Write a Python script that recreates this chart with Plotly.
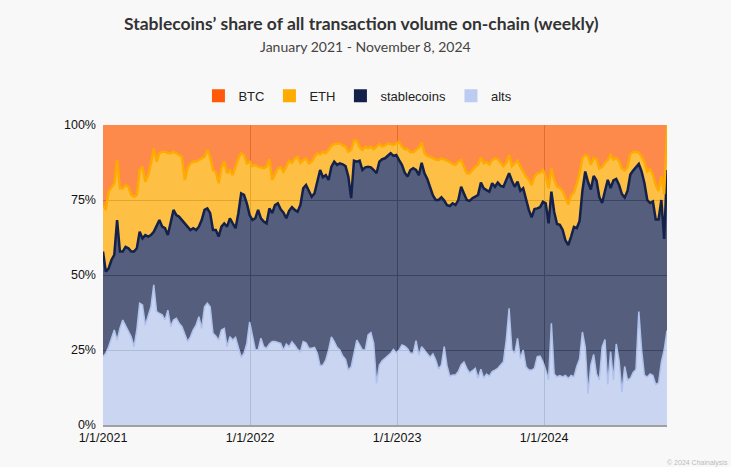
import pandas as pd
import plotly.graph_objects as go

# Weekly observations, first week of 2021 through start of November 2024
weeks = pd.date_range("2021-01-01", periods=201, freq="7D")

# Share of on-chain transaction volume (%)
alts = [22.8, 23.9, 26.1, 28.9, 31.7, 28.3, 32.2, 35.0, 33.3, 31.1, 29.4, 26.1, 31.7, 40.6, 40.0, 33.3, 36.1, 39.4, 46.7, 37.8,
        37.2, 36.7, 35.0, 38.3, 32.8, 35.0, 35.6, 33.9, 32.8, 30.6, 27.8, 29.4, 31.7, 33.3, 36.1, 32.2, 39.4, 40.6, 39.4, 30.6,
        29.7, 28.3, 31.7, 32.2, 26.1, 29.4, 28.3, 29.2, 25.6, 22.6, 23.9, 27.2, 34.4, 29.4, 25.2, 25.0, 28.9, 26.1, 25.6, 27.0,
        27.8, 27.8, 27.4, 27.2, 25.0, 27.0, 26.1, 27.7, 26.6, 25.2, 24.4, 27.8, 27.4, 25.6, 25.6, 25.9, 23.9, 19.7, 20.0, 21.7,
        25.0, 29.4, 27.8, 25.9, 25.0, 23.0, 21.9, 18.3, 19.4, 23.9, 28.3, 26.7, 25.0, 25.0, 30.0, 30.8, 27.2, 13.9, 20.0, 21.4,
        22.3, 23.2, 23.9, 25.2, 24.1, 25.0, 26.7, 26.3, 25.4, 23.9, 23.9, 28.1, 23.3, 26.1, 25.0, 23.9, 22.6, 23.7, 21.7, 18.6,
        20.0, 26.1, 19.7, 16.3, 16.7, 16.7, 17.8, 20.0, 21.0, 18.9, 17.4, 18.1, 18.9, 15.6, 18.6, 15.6, 17.0, 16.3, 17.8, 18.3,
        18.9, 20.0, 21.1, 28.3, 38.9, 25.0, 23.9, 28.9, 22.2, 25.0, 19.4, 18.3, 18.3, 18.9, 22.8, 23.0, 21.1, 18.3, 15.0, 33.9,
        17.0, 16.0, 16.5, 16.0, 16.5, 15.5, 16.5, 16.0, 19.5, 22.0, 31.0, 26.0, 10.5, 20.0, 23.5, 17.0, 15.0, 26.0, 28.5, 13.5,
        24.5, 15.0, 27.0, 21.5, 11.0, 19.5, 15.0, 15.5, 17.5, 18.5, 37.8, 25.0, 16.5, 16.0, 17.0, 16.5, 13.5, 14.0, 21.0, 25.0,
        31.5]

stablecoins = [35.0, 27.2, 26.1, 26.1, 25.0, 40.0, 25.6, 22.8, 26.1, 27.8, 28.4, 31.7, 27.2, 23.8, 22.2, 30.0, 26.7, 23.9, 17.7, 28.3,
               31.1, 29.4, 30.6, 25.0, 35.0, 36.7, 34.4, 35.5, 35.5, 36.6, 38.3, 35.6, 33.9, 31.7, 30.0, 36.1, 32.3, 31.6, 31.2, 34.4,
               35.3, 34.5, 34.4, 35.0, 40.0, 39.5, 38.9, 36.4, 45.0, 54.6, 52.8, 46.7, 35.6, 38.9, 43.7, 46.7, 40.0, 41.7, 41.6, 45.2,
               42.8, 45.5, 46.5, 44.7, 45.8, 41.9, 45.3, 44.9, 45.1, 45.9, 48.9, 51.1, 52.6, 52.2, 50.5, 51.3, 57.2, 65.3, 62.6, 61.6,
               56.7, 56.7, 60.0, 60.8, 62.2, 63.9, 64.4, 64.5, 56.2, 64.2, 59.5, 61.4, 60.0, 60.9, 56.1, 55.1, 57.8, 70.0, 67.8, 67.2,
               66.6, 66.5, 66.7, 64.5, 65.9, 63.3, 60.0, 57.8, 57.4, 61.1, 61.7, 56.9, 60.0, 61.3, 58.9, 58.1, 56.9, 52.8, 53.3, 56.4,
               55.9, 48.7, 53.6, 56.7, 57.2, 56.6, 57.2, 59.4, 56.2, 56.1, 57.3, 57.5, 57.2, 61.1, 62.2, 63.3, 61.3, 61.5, 62.8, 61.1,
               61.9, 59.7, 58.3, 53.6, 45.0, 56.4, 55.5, 52.2, 55.9, 53.9, 55.4, 53.4, 50.9, 53.1, 49.4, 49.6, 53.3, 55.6, 52.2, 43.9,
               54.0, 51.0, 50.2, 49.0, 45.0, 44.5, 46.3, 50.0, 46.1, 46.0, 47.0, 58.5, 70.5, 58.5, 59.5, 64.5, 61.0, 48.0, 49.5, 68.2,
               54.5, 66.5, 55.0, 58.5, 66.0, 56.3, 63.0, 68.0, 67.3, 67.5, 49.2, 59.5, 64.1, 59.0, 57.0, 58.0, 55.0, 54.5, 54.0, 37.0,
               53.5]

eth = [15.5, 20.6, 25.6, 24.4, 23.9, 20.0, 21.1, 21.1, 20.6, 20.5, 18.9, 18.3, 17.8, 20.6, 23.9, 17.8, 20.5, 23.9, 27.8, 21.7,
       22.3, 25.0, 25.5, 27.3, 22.8, 19.4, 20.6, 20.6, 21.1, 14.5, 19.5, 22.2, 22.2, 22.8, 22.2, 20.6, 17.7, 19.5, 18.8, 20.0,
       19.4, 17.8, 19.5, 20.6, 17.8, 16.1, 16.1, 20.5, 18.3, 13.4, 13.3, 13.3, 17.8, 18.0, 17.8, 14.4, 17.0, 17.8, 18.9, 16.4,
       11.1, 10.6, 11.7, 14.0, 13.6, 17.2, 16.7, 14.8, 17.2, 18.3, 14.1, 9.4, 8.9, 9.4, 11.7, 12.2, 9.5, 5.2, 8.4, 7.3,
       10.3, 7.0, 5.9, 7.2, 6.7, 6.3, 6.5, 8.3, 16.1, 6.7, 7.0, 4.5, 6.7, 6.9, 6.2, 6.9, 6.9, 8.9, 5.9, 4.2,
       4.3, 4.2, 3.1, 3.6, 3.9, 6.1, 6.1, 7.8, 9.2, 5.9, 5.3, 6.7, 9.1, 6.8, 6.7, 7.7, 9.9, 12.5, 13.5, 13.3,
       13.0, 13.8, 14.8, 14.6, 13.1, 13.4, 12.8, 8.9, 8.9, 8.9, 9.2, 9.6, 10.0, 10.0, 8.4, 8.3, 9.4, 9.0, 7.7, 9.5,
       7.8, 7.7, 6.9, 5.5, 6.1, 4.9, 7.8, 7.0, 8.0, 5.5, 8.0, 10.0, 10.8, 10.8, 11.7, 11.5, 10.6, 8.9, 11.7, 7.8,
       10.7, 12.5, 12.3, 13.0, 14.0, 13.5, 13.7, 11.5, 14.9, 16.0, 11.0, 5.5, 8.5, 8.2, 6.0, 7.0, 9.5, 12.0, 9.5, 6.6,
       11.0, 7.0, 7.0, 8.0, 8.5, 9.0, 8.0, 6.8, 6.2, 5.1, 3.8, 5.0, 7.0, 9.5, 11.3, 9.0, 11.5, 9.5, 8.0, 15.0,
       15.0]

btc = [26.7, 28.3, 22.2, 20.6, 19.4, 11.7, 21.1, 21.1, 20.0, 20.6, 23.3, 23.9, 23.3, 15.0, 13.9, 18.9, 16.7, 12.8, 7.8, 12.2,
       9.4, 8.9, 8.9, 9.4, 9.4, 8.9, 9.4, 10.0, 10.6, 18.3, 14.4, 12.8, 12.2, 12.2, 11.7, 11.1, 10.6, 8.3, 10.6, 15.0,
       15.6, 19.4, 14.4, 12.2, 16.1, 15.0, 16.7, 13.9, 11.1, 9.4, 10.0, 12.8, 12.2, 13.7, 13.3, 13.9, 14.1, 14.4, 13.9, 11.4,
       18.3, 16.1, 14.4, 14.1, 15.6, 13.9, 11.9, 12.6, 11.1, 10.6, 12.6, 11.7, 11.1, 12.8, 12.2, 10.6, 9.4, 9.8, 9.0, 9.4,
       8.0, 6.9, 6.3, 6.1, 6.1, 6.8, 7.2, 8.9, 8.3, 5.2, 5.2, 7.4, 8.3, 7.2, 7.7, 7.2, 8.1, 7.2, 6.3, 7.2,
       6.8, 6.1, 6.3, 6.7, 6.1, 5.6, 7.2, 8.1, 8.0, 9.1, 9.1, 8.3, 7.6, 5.8, 9.4, 10.3, 10.6, 11.0, 11.5, 11.7,
       11.1, 11.4, 11.9, 12.4, 13.0, 13.3, 12.2, 11.7, 13.9, 16.1, 16.1, 14.8, 13.9, 13.3, 10.8, 12.8, 12.3, 13.2, 11.7, 11.1,
       11.4, 12.6, 13.7, 12.6, 10.0, 13.7, 12.8, 11.9, 13.9, 15.6, 17.2, 18.3, 20.0, 17.2, 16.1, 15.9, 15.0, 17.2, 21.1, 14.4,
       18.3, 20.5, 21.0, 22.0, 24.5, 26.5, 23.5, 22.5, 19.5, 16.0, 11.0, 10.0, 10.5, 13.3, 11.0, 11.5, 14.5, 14.0, 12.5, 11.7,
       10.0, 11.5, 11.0, 12.0, 14.5, 15.2, 14.0, 9.7, 9.0, 8.9, 9.2, 10.5, 12.4, 15.5, 14.7, 16.5, 20.0, 22.0, 17.0, 23.0,
       0.0]

legend_order = ["BTC", "ETH", "stablecoins", "alts"]
y_tickvals = [0, 25, 50, 75, 100]
y_ticktext = ["0%", "25%", "50%", "75%", "100%"]
x_tickvals = ["2021-01-01", "2022-01-01", "2023-01-01", "2024-01-01"]
x_ticktext = ["1/1/2021", "1/1/2022", "1/1/2023", "1/1/2024"]

styles = {
    "alts": dict(line="#b0c2ec", fill="rgba(185,201,238,0.72)", width=1.5),
    "stablecoins": dict(line="#13214b", fill="rgba(19,33,75,0.71)", width=2.5),
    "ETH": dict(line="#ffaa00", fill="rgba(255,170,0,0.72)", width=2.5),
    "BTC": dict(line="#ff5a00", fill="rgba(255,90,0,0.70)", width=0),
}
legend_colors = {"BTC": "#ff5a0a", "ETH": "#ffab00", "stablecoins": "#13214b", "alts": "#bccbf0"}

fig = go.Figure()
for name, vals in [("alts", alts), ("stablecoins", stablecoins), ("ETH", eth), ("BTC", btc)]:
    st = styles[name]
    fig.add_trace(go.Scatter(
        x=weeks, y=vals, name=name, mode="lines", stackgroup="one",
        line=dict(color=st["line"], width=st["width"]),
        fillcolor=st["fill"], showlegend=False, hoverinfo="skip",
    ))

for name in legend_order:
    fig.add_trace(go.Scatter(
        x=[None], y=[None], name=name, mode="markers",
        marker=dict(symbol="square", size=13, color=legend_colors[name]),
        showlegend=True,
    ))

fig.update_layout(
    width=731, height=467,
    margin=dict(l=103, r=64, t=125, b=42),
    paper_bgcolor="#f8f8f8", plot_bgcolor="#f8f8f8",
    font=dict(family="Liberation Sans, Arial, sans-serif", size=12, color="#222222"),
    showlegend=True,
    legend=dict(orientation="h", x=0.452, xanchor="center", y=1.097, yanchor="middle",
                font=dict(size=13, color="#222222"), itemwidth=30, traceorder="normal",
                bgcolor="rgba(0,0,0,0)"),
    xaxis=dict(range=[weeks[0], weeks[-1]], tickvals=x_tickvals, ticktext=x_ticktext,
               showgrid=True, gridcolor="#9a9a9a", gridwidth=1,
               showline=True, linecolor="#a0a0a0", linewidth=2,
               ticks="", tickfont=dict(size=12.5, color="#111111"), zeroline=False),
    yaxis=dict(range=[0, 100], tickvals=y_tickvals, ticktext=y_ticktext,
               showgrid=True, gridcolor="#9a9a9a", gridwidth=1,
               ticks="", ticklabelstandoff=6,
               tickfont=dict(size=12.5, color="#111111"), zeroline=False,
               showline=False),
    annotations=[
        dict(text="<b>Stablecoins’ share of all transaction volume on-chain (weekly)</b>",
             x=0.458, xref="paper", y=1.337, yref="paper", showarrow=False,
             xanchor="center", yanchor="middle",
             font=dict(family="Lato, sans-serif", size=17.5, color="#333333")),
        dict(text="January 2021 - November 8, 2024",
             x=0.466, xref="paper", y=1.263, yref="paper", showarrow=False,
             xanchor="center", yanchor="middle",
             font=dict(family="Lato, sans-serif", size=14, color="#444444")),
        dict(text="© 2024 Chainalysis", x=1.112, xref="paper", y=-0.128, yref="paper",
             showarrow=False, xanchor="right", yanchor="middle",
             font=dict(size=7, color="#bbbbbb")),
    ],
)

fig.write_html("out.html")
